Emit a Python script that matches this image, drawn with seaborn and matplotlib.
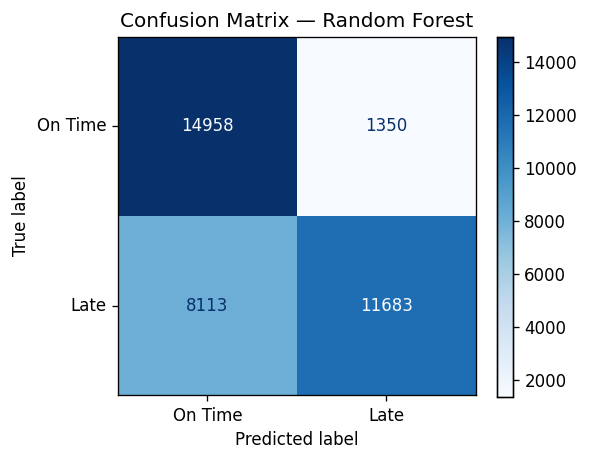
import numpy as np
import seaborn as sns
import matplotlib.pyplot as plt

# confusion matrix values
labels = ['On Time', 'Late']
row_on_time = [14958, 1350]
row_late = [8113, 11683]

cm = np.array([row_on_time, row_late])

fig = plt.figure(figsize=(592 / 120, 461 / 120), dpi=120)
ax = fig.add_axes([0.199, 0.143, 0.605, 0.777])
cax = fig.add_axes([0.840, 0.139, 0.026, 0.781])

sns.heatmap(cm, ax=ax, cbar_ax=cax, cmap='Blues', annot=False,
            xticklabels=labels, yticklabels=labels, square=True)

# text colour like sklearn: white on dark cells, dark blue on light ones
cmap = plt.get_cmap('Blues')
thresh = (cm.max() + cm.min()) / 2
for i in range(2):
    for j in range(2):
        color = cmap(0.0) if cm[i, j] > thresh else cmap(1.0)
        ax.text(j + 0.5, i + 0.5, str(cm[i, j]), ha='center', va='center',
                color=color, fontsize=10)

for s in ax.spines.values():
    s.set_visible(True)
    s.set_linewidth(0.8)
ax.tick_params(length=3.5, width=0.8)
ax.set_yticklabels(labels, rotation=0)
ax.set_xticklabels(labels, rotation=0)
ax.set_xlabel('Predicted label')
ax.set_ylabel('True label')
ax.set_title('Confusion Matrix — Random Forest')

cax.set_yticks([2000, 4000, 6000, 8000, 10000, 12000, 14000])
for s in cax.spines.values():
    s.set_visible(True)
    s.set_linewidth(0.8)

fig.savefig('out.png', dpi=120)
